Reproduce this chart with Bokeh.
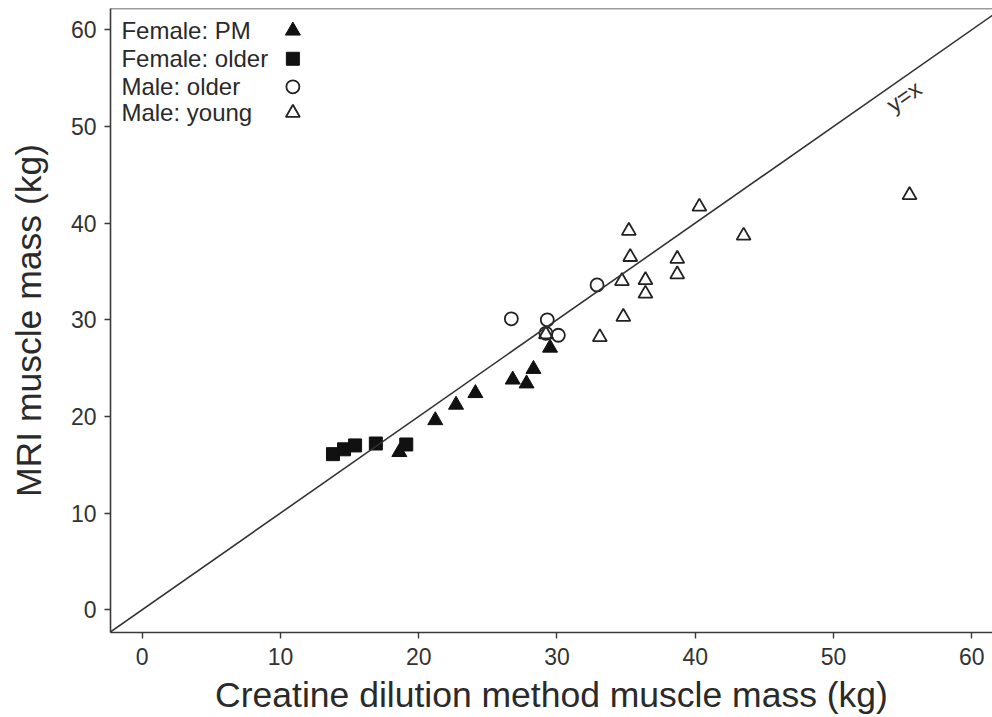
from bokeh.plotting import figure
from bokeh.models import Range1d, Slope, Span, FixedTicker
from bokeh.core.properties import value
from bokeh.embed import file_html
from bokeh.resources import INLINE

# ---- data ----
female_pm_x = [18.6, 21.2, 22.7, 24.1, 26.8, 27.8, 28.3, 29.5]
female_pm_y = [16.3, 19.6, 21.2, 22.4, 23.8, 23.4, 24.9, 27.1]

female_older_x = [13.8, 14.6, 15.4, 16.9, 19.1]
female_older_y = [16.1, 16.6, 17.0, 17.2, 17.1]

male_older_x = [26.7, 29.3, 29.2, 30.1, 32.9]
male_older_y = [30.1, 30.0, 28.6, 28.4, 33.6]

male_young_x = [29.2, 33.1, 34.8, 36.4, 36.4, 34.7, 38.7, 38.7, 35.3, 35.2, 40.3, 43.5, 55.5]
male_young_y = [28.5, 28.2, 30.3, 32.7, 34.1, 34.0, 34.7, 36.3, 36.5, 39.2, 41.7, 38.7, 42.9]

legend_labels = ["Female: PM", "Female: older", "Male: older", "Male: young"]
x_ticks = [0, 10, 20, 30, 40, 50, 60]
y_ticks = [0, 10, 20, 30, 40, 50, 60]
x_title = "Creatine dilution method muscle mass (kg)"
y_title = "MRI muscle mass (kg)"
line_label = "y=x"

FONT = "Liberation Sans"
INK = "#222222"
AX = "#3a3a3a"

X0, X1 = -2.29, 61.5
Y0, Y1 = -2.35, 62.2

p = figure(width=992, height=717, output_backend="svg", toolbar_location=None,
           x_range=Range1d(X0, X1), y_range=Range1d(Y0, Y1),
           min_border_left=110, min_border_right=0, min_border_top=8,
           min_border_bottom=85)
p.outline_line_color = None
p.grid.visible = False

for ax, ticks in ((p.xaxis, x_ticks), (p.yaxis, y_ticks)):
    ax.ticker = FixedTicker(ticks=ticks)
    ax.axis_line_color = AX
    ax.axis_line_width = 1.6
    ax.major_tick_line_color = AX
    ax.major_tick_line_width = 1.4
    ax.major_tick_out = 6
    ax.major_tick_in = 0
    ax.minor_tick_line_color = None
    ax.major_label_text_font = FONT
    ax.major_label_text_font_size = "23px"
    ax.major_label_text_color = "#333333"
    ax.axis_label_text_font = FONT
    ax.axis_label_text_font_style = "normal"
    ax.axis_label_text_font_size = "35.5px"
    ax.axis_label_text_color = "#2a2a2a"

p.xaxis.axis_label = x_title
p.yaxis.axis_label = y_title
p.xaxis.major_label_standoff = 9
p.xaxis.axis_label_standoff = 7
p.yaxis.major_label_standoff = 8
p.yaxis.axis_label_standoff = 19

# top border
p.add_layout(Span(location=Y1, dimension="width", line_color=AX, line_width=1.6))

# identity line
p.add_layout(Slope(gradient=1, y_intercept=0, line_color="#333333", line_width=1.6))
p.text(x=[55.1], y=[53.1], text=[line_label], angle=35, angle_units="deg",
       text_align="center", text_baseline="middle", text_font=value(FONT),
       text_font_size="23px", text_color="#333333")

# data
p.scatter(female_older_x, female_older_y, marker="square", size=13,
          fill_color="#111111", line_color="#111111")
p.scatter(female_pm_x, female_pm_y, marker="triangle", size=15,
          fill_color="#111111", line_color="#111111")
p.scatter(male_older_x, male_older_y, marker="circle", size=13,
          fill_color=None, line_color=INK, line_width=1.8)
p.scatter(male_young_x, male_young_y, marker="triangle", size=14,
          fill_color=None, line_color=INK, line_width=1.8)

# legend (labels left, symbols right, as in the reference)
leg_y = [59.9, 57.0, 54.1, 51.4]
leg_tx = X0 + 0.79
leg_mx = 10.9
p.text(x=[leg_tx] * 4, y=leg_y, text=legend_labels, text_align="left",
       text_baseline="middle", text_font=value(FONT), text_font_size="24px",
       text_color="#2a2a2a")
p.scatter([leg_mx], [leg_y[0]], marker="triangle", size=15,
          fill_color="#111111", line_color="#111111")
p.scatter([leg_mx], [leg_y[1]], marker="square", size=13,
          fill_color="#111111", line_color="#111111")
p.scatter([leg_mx], [leg_y[2]], marker="circle", size=13,
          fill_color=None, line_color=INK, line_width=1.8)
p.scatter([leg_mx], [leg_y[3]], marker="triangle", size=14,
          fill_color=None, line_color=INK, line_width=1.8)

open("out.html", "w").write(file_html(p, INLINE))
